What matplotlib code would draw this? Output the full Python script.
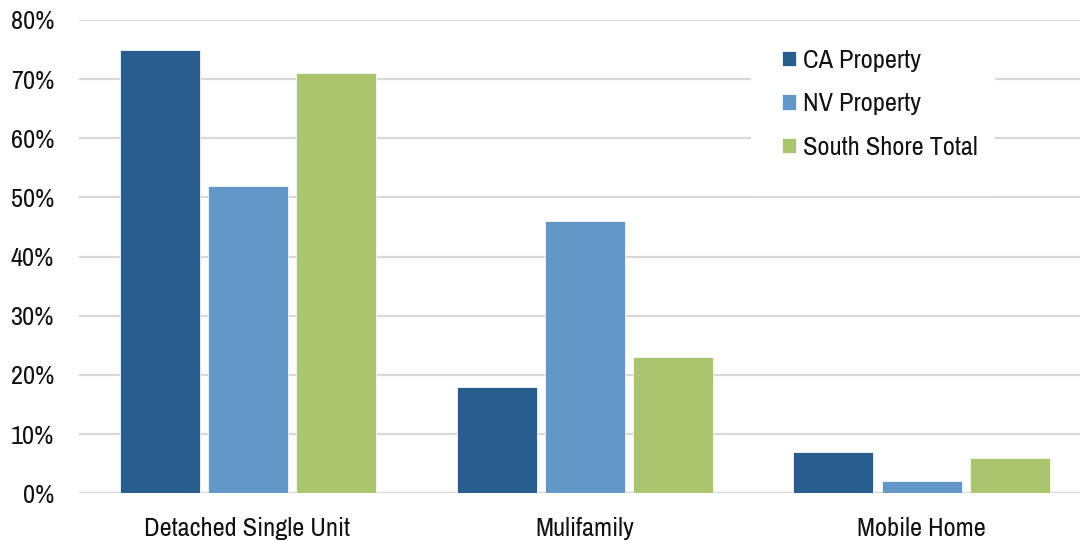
import matplotlib
matplotlib.use("Agg")
import matplotlib.pyplot as plt
from matplotlib.patches import Rectangle
import numpy as np

plt.rcParams['font.family'] = ['Archivo Narrow', 'Liberation Sans', 'DejaVu Sans']

categories = ["Detached Single Unit", "Mulifamily", "Mobile Home"]
series_names = ["CA Property", "NV Property", "South Shore Total"]
ca_values = [75, 18, 7]
nv_values = [52, 46, 2]
ss_values = [71, 23, 6]
y_ticks = [0, 10, 20, 30, 40, 50, 60, 70, 80]
y_tick_labels = ["0%", "10%", "20%", "30%", "40%", "50%", "60%", "70%", "80%"]

colors = ["#285D8D", "#6297C8", "#ABC56E"]

fig = plt.figure(figsize=(10.8, 5.41), dpi=100)
ax = fig.add_axes([79/1080, 47.7/541, 1011/1080, 473.3/541])

x = np.arange(len(categories))
w = 80/337
off = 88/337
for i, (vals, name) in enumerate(zip([ca_values, nv_values, ss_values], series_names)):
    ax.bar(x + (i - 1) * off, vals, width=w, color=colors[i], label=name,
           edgecolor="#F4F8FC", linewidth=0.6, zorder=3)

ax.set_xlim(-0.5, 2.5)
ax.set_ylim(0, 80)
ax.set_yticks(y_ticks)
ax.set_yticklabels(y_tick_labels, fontsize=19, color="#111111")
ax.set_xticks(x)
ax.set_xticklabels(categories, fontsize=19, color="#111111")
ax.yaxis.grid(True, color="#D9D9D9", linewidth=1.6, zorder=0)
ax.set_axisbelow(True)
ax.tick_params(axis='y', length=0, pad=18)
ax.tick_params(axis='x', length=0, pad=17)
for s in ax.spines.values():
    s.set_visible(False)
ax.axhline(0, color="#D9D9D9", linewidth=1.6, zorder=1)

# white legend background box (covers gridlines like the original)
bg = Rectangle((751/1080, 1 - 196/541), 244/1080, 174/541,
               transform=fig.transFigure, facecolor="white",
               edgecolor="none", zorder=2, clip_on=False)
ax.add_patch(bg)

leg = ax.legend(loc="upper left", bbox_to_anchor=(782/1080, 1 - 49/541),
                bbox_transform=fig.transFigure, fontsize=19, frameon=False,
                handlelength=0.53, handleheight=0.53, handletextpad=0.25,
                labelspacing=0.77, borderpad=0, borderaxespad=0)
for t in leg.get_texts():
    t.set_color("#111111")
leg.set_zorder(5)

fig.savefig("out.png", dpi=100)
